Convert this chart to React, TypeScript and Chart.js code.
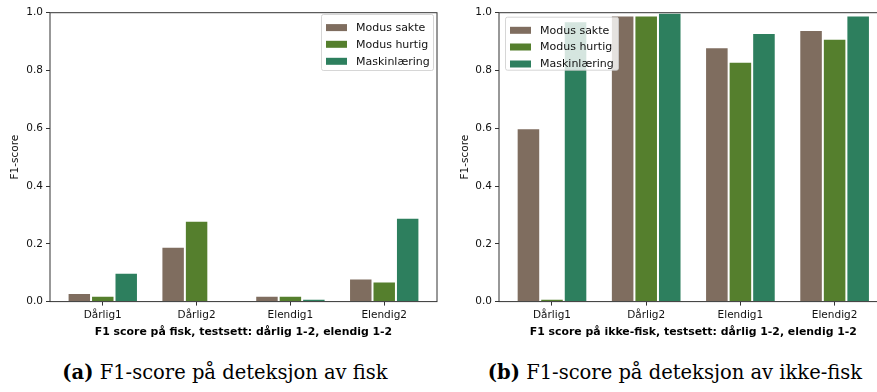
import React, { useEffect, useRef } from "react";
import { Chart, registerables } from "chart.js";

Chart.register(...registerables);

const categories = ["Dårlig1", "Dårlig2", "Elendig1", "Elendig2"];
const seriesNames = ["Modus sakte", "Modus hurtig", "Maskinlæring"];
const seriesColors = ["#7f6d5f", "#557f2d", "#2d7f5e"];

const fiskSakte = [0.03, 0.19, 0.02, 0.08];
const fiskHurtig = [0.02, 0.28, 0.02, 0.07];
const fiskML = [0.1, 0, 0.01, 0.29];

const ikkeFiskSakte = [0.6, 0.99, 0.88, 0.94];
const ikkeFiskHurtig = [0.01, 0.99, 0.83, 0.91];
const ikkeFiskML = [0.97, 1.0, 0.93, 0.99];

const yTicks = [0, 0.2, 0.4, 0.6, 0.8, 1.0];

const xTitleA = "F1 score på fisk, testsett: dårlig 1-2, elendig 1-2";
const xTitleB = "F1 score på ikke-fisk, testsett: dårlig 1-2, elendig 1-2";
const yTitle = "F1-score";

const SANS = "'DejaVu Sans', sans-serif";

const framePlugin = {
  id: "frame",
  afterDatasetsDraw(chart: any) {
    const { ctx, chartArea } = chart;
    ctx.save();
    ctx.strokeStyle = "#333";
    ctx.lineWidth = 1;
    ctx.strokeRect(chartArea.left, chartArea.top, chartArea.right - chartArea.left, chartArea.bottom - chartArea.top);
    ctx.restore();
  },
};

const legendPlugin = {
  id: "boxLegend",
  afterDatasetsDraw(chart: any, _args: any, opts: any) {
    const { ctx, chartArea } = chart;
    const x = opts.side === "right" ? chartArea.right - opts.inset - opts.w : chartArea.left + opts.inset;
    const y = chartArea.top + opts.top;
    ctx.save();
    ctx.beginPath();
    if (ctx.roundRect) ctx.roundRect(x + 0.5, y + 0.5, opts.w, opts.h, 2);
    else ctx.rect(x + 0.5, y + 0.5, opts.w, opts.h);
    ctx.fillStyle = "rgba(255,255,255,0.8)";
    ctx.fill();
    ctx.strokeStyle = "rgba(204,204,204,0.8)";
    ctx.lineWidth = 1;
    ctx.stroke();
    ctx.font = `11px ${SANS}`;
    ctx.textBaseline = "middle";
    chart.data.datasets.forEach((ds: any, i: number) => {
      const cy = y + opts.rows[i];
      ctx.fillStyle = ds.backgroundColor;
      ctx.fillRect(x + 5, cy - 3.5, 21, 7);
      ctx.fillStyle = "#111";
      ctx.fillText(ds.label, x + 35, cy + 0.5);
    });
    ctx.restore();
  },
};

function buildChart(canvas: HTMLCanvasElement, series: number[][], xTitle: string, geo: any) {
  return new Chart(canvas, {
    type: "bar",
    data: {
      datasets: series.map((vals, i) => ({
        label: seriesNames[i],
        data: vals.map((v, j) => ({ x: j, y: v })),
        backgroundColor: seriesColors[i],
        borderColor: "#ffffff",
        borderWidth: 1,
        borderSkipped: "start",
        barPercentage: 1,
        categoryPercentage: 0.75,
      })),
    },
    options: {
      responsive: false,
      animation: false,
      events: [],
      layout: { padding: { left: 0, top: geo.top, right: geo.right, bottom: 0 } },
      plugins: {
        legend: { display: false },
        tooltip: { enabled: false },
        boxLegend: geo.legend,
      } as any,
      scales: {
        x: {
          type: "linear",
          min: -0.5625,
          max: 3.5625,
          offset: false,
          afterBuildTicks: (s: any) => {
            s.ticks = categories.map((_, i) => ({ value: i }));
          },
          afterFit: (s: any) => {
            s.height = geo.xAxisH;
          },
          ticks: {
            callback: (v: any) => categories[Number(v)] ?? "",
            font: { family: SANS, size: 10.5 },
            color: "#111",
            padding: 3,
            maxRotation: 0,
            autoSkip: false,
          },
          grid: { display: true, drawOnChartArea: false, drawTicks: true, tickLength: 4, color: "#333", offset: false },
          border: { display: false },
          title: {
            display: true,
            text: xTitle,
            font: { family: SANS, size: 10.9, weight: "bold" },
            color: "#000",
            padding: { top: 0, bottom: 6 },
          },
        },
        y: {
          min: 0,
          max: 1,
          afterBuildTicks: (s: any) => {
            s.ticks = yTicks.map((v) => ({ value: v }));
          },
          afterFit: (s: any) => {
            s.width = geo.yAxisW;
          },
          ticks: {
            callback: (v: any) => Number(v).toFixed(1),
            font: { family: SANS, size: 10.5 },
            color: "#111",
            padding: 3,
          },
          grid: { display: true, drawOnChartArea: false, drawTicks: true, tickLength: 4, color: "#333" },
          border: { display: false },
          title: {
            display: true,
            text: yTitle,
            font: { family: SANS, size: 10.5 },
            color: "#111",
            padding: { top: geo.yTitlePad, bottom: 0 },
          },
        },
      } as any,
    },
    plugins: [framePlugin, legendPlugin],
  } as any);
}

function BarPanel(props: { series: number[][]; xTitle: string; geo: any; left: number; width: number }) {
  const ref = useRef<HTMLCanvasElement | null>(null);
  useEffect(() => {
    if (!ref.current) return;
    const c = buildChart(ref.current, props.series, props.xTitle, props.geo);
    return () => c.destroy();
  }, []);
  return (
    <canvas
      ref={ref}
      width={props.width}
      height={345}
      style={{ position: "absolute", left: props.left, top: 0, width: props.width, height: 345 }}
    />
  );
}

const captionStyle: React.CSSProperties = {
  position: "absolute",
  top: 360,
  height: 26,
  lineHeight: "26px",
  fontFamily: "'DejaVu Serif', serif",
  fontSize: 19.5,
  color: "#000",
  textAlign: "center",
  whiteSpace: "nowrap",
};

export default function App() {
  const geoA = {
    top: 12.7,
    right: 3,
    yAxisW: 50,
    xAxisH: 43.4,
    yTitlePad: 8.7,
    legend: { side: "right", inset: 4, top: 1.3, w: 112, h: 56, rows: [13.6, 30.3, 47.3] },
  };
  const geoB = {
    top: 12.7,
    right: 2.4,
    yAxisW: 59,
    xAxisH: 43.4,
    yTitlePad: 18.7,
    legend: { side: "left", inset: 6, top: 4, w: 113, h: 53, rows: [13.6, 30.3, 47.3] },
  };
  return (
    <div style={{ position: "fixed", left: 0, top: 0, width: 877, height: 392, overflow: "hidden", background: "#fff" }}>
      <BarPanel series={[fiskSakte, fiskHurtig, fiskML]} xTitle={xTitleA} geo={geoA} left={0} width={440} />
      <BarPanel series={[ikkeFiskSakte, ikkeFiskHurtig, ikkeFiskML]} xTitle={xTitleB} geo={geoB} left={440} width={450} />
      <div style={{ ...captionStyle, left: 25, width: 400 }}>
        <b>(a)</b> F1-score på deteksjon av fisk
      </div>
      <div style={{ ...captionStyle, left: 475, width: 400 }}>
        <b>(b)</b> F1-score på deteksjon av ikke-fisk
      </div>
    </div>
  );
}
